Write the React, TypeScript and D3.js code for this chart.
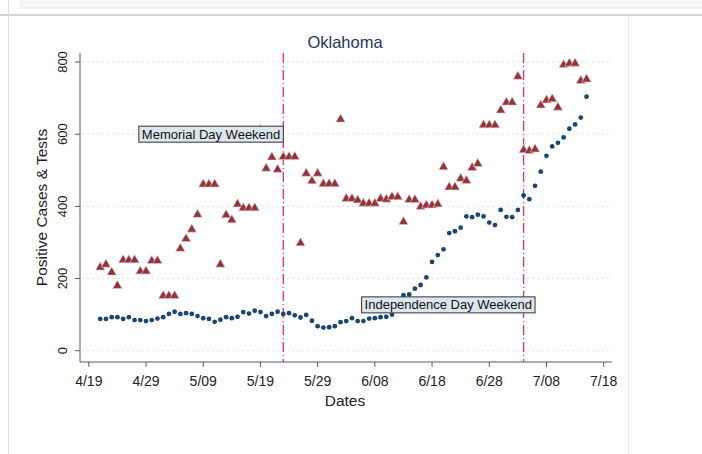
import React, { useEffect, useRef } from 'react';
import * as d3 from 'd3';

// daily values, first point on 4/21/2020
const firstDay = new Date(2020, 3, 21);

const dotValues = [
  88, 88, 93, 93, 88, 93, 85, 85, 82, 85, 89, 93, 102, 108, 102, 104, 102, 96, 90, 88,
  80, 86, 93, 90, 94, 107, 103, 111, 107, 96, 102, 108, 102, 104, 98, 92, 99, 83, 68, 64,
  65, 68, 79, 82, 90, 82, 82, 89, 90, 93, 94, 100, 125, 154, 156, 172, 182, 203, 246, 265,
  281, 326, 331, 341, 372, 370, 377, 372, 355, 348, 390, 371, 370, 390, 430, 420, 457, 496, 540, 566,
  576, 591, 615, 627, 646, 704,
];

const triangleValues = [
  231, 239, 217, 180, 251, 251, 251, 220, 220, 249, 249, 152, 152, 152, 283, 310, 336, 377, 461, 461,
  461, 239, 376, 362, 406, 395, 395, 395, 612, 505, 536, 502, 537, 537, 537, 298, 491, 470, 491, 462,
  462, 462, 641, 421, 421, 417, 408, 408, 408, 421, 419, 426, 426, 357, 418, 418, 399, 403, 403, 406,
  509, 453, 453, 477, 471, 507, 518, 625, 625, 625, 666, 688, 688, 760, 556, 554, 558, 680, 694, 697,
  674, 792, 796, 796, 748, 752,
];

const xTickLabels = ['4/19', '4/29', '5/09', '5/19', '5/29', '6/08', '6/18', '6/28', '7/08', '7/18'];
const yTicks = [0, 200, 400, 600, 800];

const eventDates = [new Date(2020, 4, 23), new Date(2020, 6, 4)];
const noteTexts = ['Memorial Day Weekend', 'Independence Day Weekend'];
const noteDates = [new Date(2020, 4, 23), new Date(2020, 6, 6)];
const noteValues = [600, 127];

const W = 702;
const H = 454;
const FONT = "'Liberation Sans', Arial, sans-serif";

const App: React.FC = () => {
  const svgRef = useRef<SVGSVGElement>(null);

  useEffect(() => {
    if (!svgRef.current) return;
    const svg = d3.select(svgRef.current);
    svg.selectAll('*').remove();

    // page chrome around the graph
    svg.append('rect').attr('x', 21).attr('y', -1).attr('width', 690).attr('height', 9)
      .attr('fill', '#f5f7f8').attr('stroke', '#e4e8ea');
    svg.append('line').attr('x1', 0).attr('x2', W).attr('y1', 15).attr('y2', 15)
      .attr('stroke', '#c6c8c9').attr('stroke-width', 1.5);
    svg.append('line').attr('x1', 8.5).attr('x2', 8.5).attr('y1', 0).attr('y2', H)
      .attr('stroke', '#dcdedf');
    svg.append('line').attr('x1', 628.5).attr('x2', 628.5).attr('y1', 16).attr('y2', H)
      .attr('stroke', '#e2ebee');

    const x = d3.scaleTime()
      .domain([new Date(2020, 3, 19), new Date(2020, 6, 18)])
      .range([88.8, 603.7]);
    const y = d3.scaleLinear().domain([0, 800]).range([350.7, 62]);
    const xTicks = d3.timeDay.range(new Date(2020, 3, 19), new Date(2020, 6, 19), 1)
      .filter((_, i) => i % 10 === 0);

    const axisLeft = 80;
    const axisBottom = 362;
    const plotTop = 53;
    const plotRight = 612;

    // grid
    svg.append('g').selectAll('line').data(yTicks).join('line')
      .attr('x1', axisLeft + 2).attr('x2', plotRight)
      .attr('y1', d => y(d)).attr('y2', d => y(d))
      .attr('stroke', '#d8e5e8').attr('stroke-dasharray', '2,3');

    // axes
    svg.append('line').attr('x1', axisLeft).attr('x2', axisLeft).attr('y1', plotTop).attr('y2', axisBottom)
      .attr('stroke', '#5a5a5a');
    svg.append('line').attr('x1', axisLeft).attr('x2', plotRight).attr('y1', axisBottom).attr('y2', axisBottom)
      .attr('stroke', '#5a5a5a');

    svg.append('g').selectAll('line').data(yTicks).join('line')
      .attr('x1', axisLeft - 5).attr('x2', axisLeft)
      .attr('y1', d => y(d)).attr('y2', d => y(d))
      .attr('stroke', '#5a5a5a');
    svg.append('g').selectAll('text').data(yTicks).join('text')
      .attr('transform', d => `translate(67,${y(d)}) rotate(-90)`)
      .attr('text-anchor', 'middle')
      .attr('font-family', FONT).attr('font-size', 13).attr('fill', '#222')
      .text(d => String(d));

    svg.append('g').selectAll('line').data(xTicks).join('line')
      .attr('x1', d => x(d)).attr('x2', d => x(d))
      .attr('y1', axisBottom).attr('y2', axisBottom + 5)
      .attr('stroke', '#5a5a5a');
    svg.append('g').selectAll('text').data(xTicks).join('text')
      .attr('x', d => x(d)).attr('y', 386)
      .attr('text-anchor', 'middle')
      .attr('font-family', FONT).attr('font-size', 14).attr('fill', '#222')
      .text((_, i) => xTickLabels[i]);

    // titles
    svg.append('text').attr('x', 345).attr('y', 48).attr('text-anchor', 'middle')
      .attr('font-family', FONT).attr('font-size', 16.5).attr('fill', '#1f355e')
      .text('Oklahoma');
    svg.append('text').attr('x', 345).attr('y', 406).attr('text-anchor', 'middle')
      .attr('font-family', FONT).attr('font-size', 15.5).attr('fill', '#222')
      .text('Dates');
    svg.append('text').attr('transform', `translate(47,${(plotTop + axisBottom) / 2}) rotate(-90)`)
      .attr('text-anchor', 'middle')
      .attr('font-family', FONT).attr('font-size', 15.5).attr('fill', '#222')
      .text('Positive Cases & Tests');

    // event lines
    svg.append('g').selectAll('line').data(eventDates).join('line')
      .attr('x1', d => x(d)).attr('x2', d => x(d))
      .attr('y1', plotTop).attr('y2', axisBottom)
      .attr('stroke', '#ec2f6a').attr('stroke-width', 1.3)
      .attr('stroke-dasharray', '10,3,1,3');

    const day = (i: number) => d3.timeDay.offset(firstDay, i);

    // markers
    const tri = d3.symbol().type(d3.symbolTriangle).size(38)();
    svg.append('g').selectAll('path').data(triangleValues).join('path')
      .attr('d', tri as string)
      .attr('transform', (d, i) => `translate(${x(day(i))},${y(d)})`)
      .attr('fill', '#90353b').attr('stroke', '#e9c9cb').attr('stroke-width', 0.6);

    svg.append('g').selectAll('circle').data(dotValues).join('circle')
      .attr('cx', (_, i) => x(day(i))).attr('cy', d => y(d))
      .attr('r', 2.4).attr('fill', '#1a476f');

    // notes
    noteTexts.forEach((t, i) => {
      const g = svg.append('g');
      const right = x(noteDates[i]);
      const cy = y(noteValues[i]);
      const rect = g.append('rect');
      const txt = g.append('text')
        .attr('x', right - 3).attr('y', cy + 4.6)
        .attr('text-anchor', 'end')
        .attr('font-family', FONT).attr('font-size', 13).attr('fill', '#111')
        .text(t);
      const w = (txt.node() as SVGTextElement).getComputedTextLength();
      rect.attr('x', right - w - 6).attr('y', cy - 8).attr('width', w + 6).attr('height', 16)
        .attr('fill', '#dce7ed').attr('stroke', '#333').attr('stroke-width', 1);
    });
  }, []);

  return (
    <svg ref={svgRef} width={W} height={H}
      style={{ position: 'absolute', left: 0, top: 0, background: '#fff' }} />
  );
};

export default App;
